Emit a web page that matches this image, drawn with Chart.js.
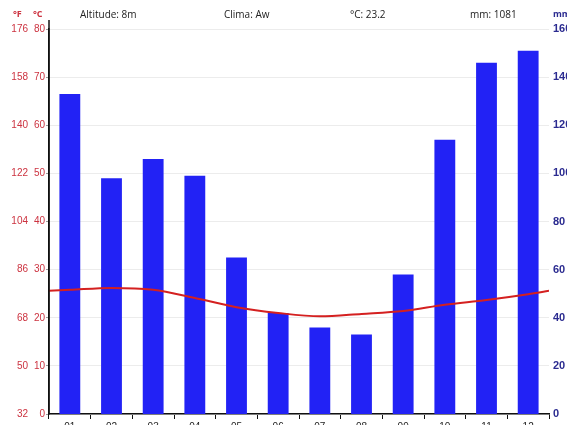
<!DOCTYPE html>
<html>
<head>
<meta charset="utf-8">
<script src="https://cdn.jsdelivr.net/npm/chart.js@4"></script>
<style>
  html, body { margin: 0; padding: 0; background: #fff; overflow: hidden; }
  #wrap { width: 567px; height: 425px; overflow: hidden; }
</style>
</head>
<body>
<div id="wrap"><canvas id="chart" width="590" height="434"></canvas></div>
<script>
const months = ["01", "02", "03", "04", "05", "06", "07", "08", "09", "10", "11", "12"];
const rainMm = [133, 98, 106, 99, 65, 42, 36, 33, 58, 114, 146, 151];
const tempC = [25.8, 26.2, 25.8, 24.1, 22.2, 21.0, 20.3, 20.8, 21.4, 22.7, 23.7, 24.9];
const tempEdges = [25.6, 25.6]; // where the curve meets the left and right plot edges
const headerTexts = ["Altitude: 8m", "Clima: Aw", "°C: 23.2", "mm: 1081"];

const RED = "#cc3340";
const BLUE = "#2b2b90";

const tempPoints = [{ x: 0.5, y: tempEdges[0] }]
  .concat(tempC.map((t, i) => ({ x: i + 1, y: t })))
  .concat([{ x: 12.5, y: tempEdges[1] }]);

const headerPlugin = {
  id: "header",
  afterDraw(chart) {
    const ctx = chart.ctx;
    ctx.save();
    ctx.textBaseline = "middle";
    ctx.font = "10px 'Open Sans', sans-serif";
    ctx.fillStyle = "#222";
    const xs = [80, 224, 350, 470];
    headerTexts.forEach((t, i) => ctx.fillText(t, xs[i], 15));

    ctx.font = "bold 9px 'Open Sans', sans-serif";
    ctx.fillStyle = RED;
    ctx.fillText("°F", 13, 14);
    ctx.fillText("°C", 33, 14);
    ctx.fillStyle = BLUE;
    ctx.fillText("mm", 553, 14);

    // left axis line runs a bit above the plot
    const y = chart.scales.y;
    ctx.strokeStyle = "#111";
    ctx.lineWidth = 1.5;
    ctx.beginPath();
    ctx.moveTo(y.right, 20);
    ctx.lineTo(y.right, y.bottom);
    ctx.stroke();
    ctx.restore();
  }
};

new Chart(document.getElementById("chart"), {
  type: "bar",
  data: {
    labels: months,
    datasets: [
      {
        type: "line",
        data: tempPoints,
        xAxisID: "xl",
        yAxisID: "y",
        borderColor: "#d42020",
        borderWidth: 2,
        pointRadius: 0,
        cubicInterpolationMode: "monotone",
        order: 0
      },
      {
        data: rainMm,
        xAxisID: "x",
        yAxisID: "yR",
        backgroundColor: "#2222f5",
        grouped: false,
        barPercentage: 0.5,
        categoryPercentage: 1,
        order: 1
      }
    ]
  },
  options: {
    responsive: false,
    animation: false,
    layout: { padding: { top: 29, left: 0, right: 0, bottom: 0 } },
    plugins: { legend: { display: false }, tooltip: { enabled: false } },
    scales: {
      x: {
        position: "bottom",
        grid: { offset: true, drawOnChartArea: false, color: "#111", tickLength: 5 },
        border: { color: "#111", width: 1.5 },
        ticks: { color: "#222", font: { size: 10 }, padding: 2, maxRotation: 0 },
        afterFit: (s) => { s.height = 20; }
      },
      xl: {
        type: "linear",
        display: false,
        offset: false,
        min: 0.5,
        max: 12.5
      },
      yF: {
        position: "left",
        weight: 1,
        min: 32,
        max: 176,
        grid: { display: false, drawTicks: false },
        border: { display: false },
        ticks: { stepSize: 18, color: RED, font: { size: 10 }, padding: 2 },
        afterFit: (s) => { s.width = 30; }
      },
      y: {
        position: "left",
        weight: 0,
        min: 0,
        max: 80,
        grid: { color: "#ececec", tickColor: "#999", tickLength: 3 },
        border: { color: "#111", width: 1.5 },
        ticks: { stepSize: 10, color: RED, font: { size: 10 }, padding: 1 },
        afterFit: (s) => { s.width = 19; }
      },
      yR: {
        position: "right",
        min: 0,
        max: 160,
        grid: { display: false, drawTicks: false },
        border: { display: false },
        ticks: { stepSize: 20, color: BLUE, font: { size: 11, weight: "bold" }, padding: 4 },
        afterFit: (s) => { s.width = 41; }
      }
    }
  },
  plugins: [headerPlugin]
});
</script>
</body>
</html>
